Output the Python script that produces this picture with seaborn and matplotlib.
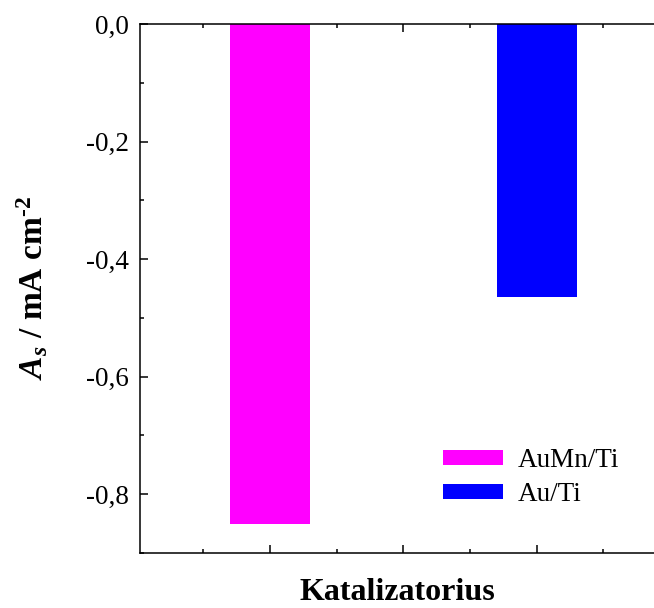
import matplotlib
matplotlib.use("Agg")
import matplotlib.pyplot as plt
from matplotlib.ticker import MultipleLocator, FuncFormatter
from matplotlib.patches import Patch
import seaborn as sns
import pandas as pd

categories = ["AuMn/Ti", "Au/Ti"]
positions = [1, 3]
values = [-0.85, -0.465]
colors = ["#ff00ff", "#0000ff"]

sns.set_style("ticks")
plt.rcParams["font.family"] = ["Liberation Serif", "DejaVu Serif"]
plt.rcParams["text.color"] = "black"
plt.rcParams["axes.labelcolor"] = "black"
plt.rcParams["xtick.color"] = "black"
plt.rcParams["ytick.color"] = "black"
plt.rcParams["mathtext.fontset"] = "custom"
plt.rcParams["mathtext.rm"] = "Liberation Serif:bold"
plt.rcParams["mathtext.it"] = "Liberation Serif:italic"
plt.rcParams["mathtext.bf"] = "Liberation Serif:bold"
plt.rcParams["mathtext.bfit"] = "Liberation Serif:italic:bold"

df = pd.DataFrame({"cat": categories, "pos": positions, "val": values})

fig = plt.figure(figsize=(6.54, 6.08), dpi=100)
ax = fig.add_axes([140/654, (608-553)/608, 1 - 140/654, (553-24)/608])

sns.barplot(data=df, x="pos", y="val", hue="cat", palette=colors,
            native_scale=True, dodge=False, width=0.3, ax=ax,
            saturation=1, edgecolor="none", linewidth=0, legend=False)

ax.set_xlim(0.025, 1 + (654 - 270) / 133.3)
ax.set_ylim(-0.9, 0.0)

ax.yaxis.set_major_locator(MultipleLocator(0.2))
ax.yaxis.set_minor_locator(MultipleLocator(0.1))
ax.xaxis.set_major_locator(MultipleLocator(1))
ax.xaxis.set_minor_locator(MultipleLocator(0.5))
ax.yaxis.set_major_formatter(FuncFormatter(lambda v, p: f"{v:.1f}".replace(".", ",").replace("-0,0", "0,0")))
ax.tick_params(axis="x", which="both", labelbottom=False)

ax.tick_params(which="both", direction="in", top=True, right=False, width=1.1,
               color="black", labelcolor="black")
ax.tick_params(which="major", length=5.5)
ax.tick_params(which="minor", length=3)
ax.tick_params(axis="y", labelsize=19.5, pad=8)

for s in ["left", "bottom", "top"]:
    ax.spines[s].set_linewidth(1.1)
    ax.spines[s].set_color("black")
ax.spines["right"].set_visible(False)

ax.set_xlabel("Katalizatorius", fontsize=23, fontweight="bold", labelpad=18, color="black")
ax.set_ylabel(r"$\mathbfit{A}_{\mathbfit{s}}$ / mA cm$^{\text{-}\mathbf{2}}$", fontsize=24,
              fontweight="bold", labelpad=26, color="black")

handles = [Patch(facecolor=c, edgecolor="none") for c in colors]
leg = ax.legend(handles, categories, loc="upper left", bbox_to_anchor=((419-140)/514, (553-424)/529),
                frameon=False, fontsize=19.5, handlelength=2.2, handleheight=0.5,
                handletextpad=0.55, labelspacing=0.33)
for t in leg.get_texts():
    t.set_color("black")

fig.savefig("out.png", dpi=100)
